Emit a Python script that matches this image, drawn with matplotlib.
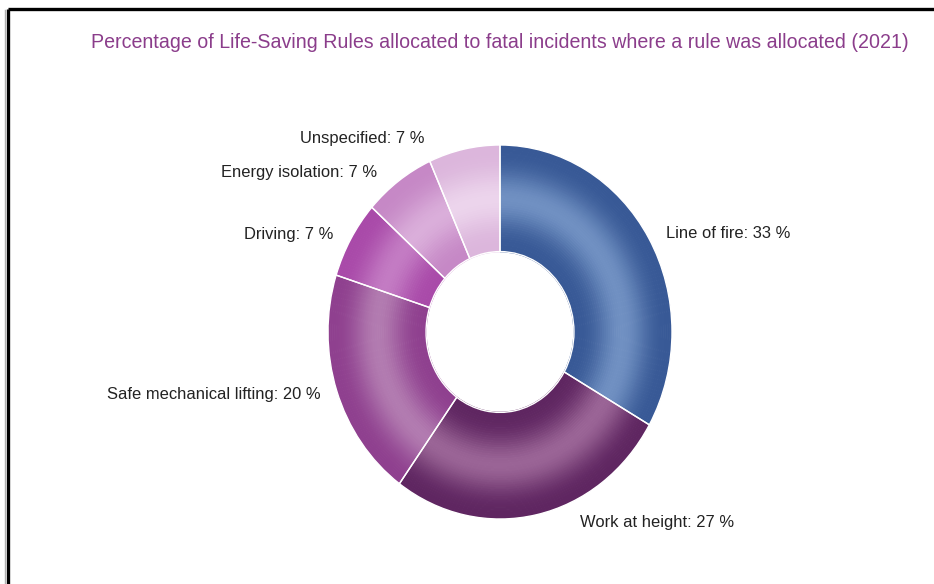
import matplotlib
matplotlib.use('Agg')
import matplotlib.pyplot as plt
import numpy as np
from matplotlib.colors import to_rgb

plt.rcParams['font.family'] = ['Liberation Sans', 'DejaVu Sans']

title = 'Percentage of Life-Saving Rules allocated to fatal incidents where a rule was allocated (2021)'
rules = ['Line of fire', 'Work at height', 'Safe mechanical lifting',
         'Driving', 'Energy isolation', 'Unspecified']
shares = [33.3, 26.7, 20.0, 6.7, 6.7, 6.7]

# edge colour and highlight colour of each slice
edge_cols = ['#385996', '#5f2661', '#8f408f', '#a94aa9', '#c688c6', '#dcb6dc']
light_cols = ['#7090c2', '#9a6496', '#b27bb0', '#c37bc3', '#daaeda', '#ecd4ec']

# label anchor in pixels (x, y, alignment)
label_pos = [(666, 234, 'left'), (580, 522, 'left'), (321, 395, 'right'),
             (333, 234, 'right'), (377, 172, 'right'), (424, 138, 'right')]

W, H = 934, 584
fig = plt.figure(figsize=(W / 100, H / 100), dpi=100)

bg = fig.add_axes([0, 0, 1, 1])
bg.set_xlim(0, W)
bg.set_ylim(H, 0)
bg.axis('off')

# frame lines
bg.plot([7.5, W], [8.5, 8.5], color='black', lw=2.4, solid_capstyle='butt')
bg.plot([7.5, 7.5], [8.5, H], color='black', lw=2.4, solid_capstyle='butt')
bg.plot([5, 5], [10, H], color='#b0b0b0', lw=1.0)

bg.text(500, 42, title, color='#8b3d8b', fontsize=14.1, ha='center', va='center')

# pie axes, slightly stretched vertically like the original
cx, cy, rx, ry = 500, 332, 172, 187
ax = fig.add_axes([(cx - rx) / W, (H - cy - ry) / H, 2 * rx / W, 2 * ry / H])

r_in = 0.43
n = 48
edges = np.linspace(r_in, 1.0, n + 1)
for i in range(n):
    t = (i + 0.5) / n
    k = np.sin(np.pi * t) ** 3
    cols = []
    for e, l in zip(edge_cols, light_cols):
        e = np.array(to_rgb(e))
        l = np.array(to_rgb(l))
        cols.append(tuple(e + (l - e) * k))
    ax.pie(shares, radius=edges[i + 1], colors=cols, startangle=90,
           counterclock=False,
           wedgeprops=dict(width=edges[i + 1] - edges[i] + 0.004,
                           edgecolor='none', linewidth=0))

# white separators
ax.pie(shares, radius=1.0, startangle=90, counterclock=False,
       colors=['none'] * len(shares),
       wedgeprops=dict(width=1.0 - r_in, edgecolor='white', linewidth=1.0))

ax.set_aspect('auto')
ax.set_xlim(-1, 1)
ax.set_ylim(-1, 1)
ax.axis('off')

for name, s, (x, y, ha) in zip(rules, shares, label_pos):
    bg.text(x, y, f'{name}: {round(s)} %', color='#222222', fontsize=11.9,
            ha=ha, va='center')

fig.savefig('out.png', dpi=100)
